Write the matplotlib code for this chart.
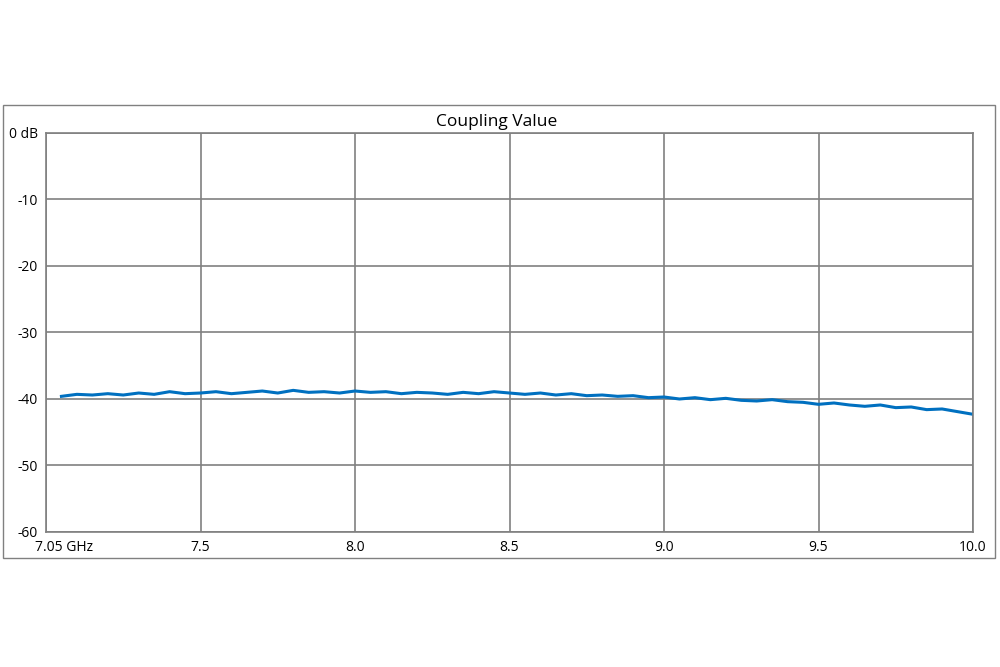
import matplotlib.pyplot as plt
import matplotlib.transforms as mtransforms
from matplotlib.patches import Rectangle

# Coupling value trace (GHz, dB)
freq_ghz = [7.05, 7.10, 7.15, 7.20, 7.25, 7.30, 7.35, 7.40, 7.45, 7.50,
            7.55, 7.60, 7.65, 7.70, 7.75, 7.80, 7.85, 7.90, 7.95, 8.00,
            8.05, 8.10, 8.15, 8.20, 8.25, 8.30, 8.35, 8.40, 8.45, 8.50,
            8.55, 8.60, 8.65, 8.70, 8.75, 8.80, 8.85, 8.90, 8.95, 9.00,
            9.05, 9.10, 9.15, 9.20, 9.25, 9.30, 9.35, 9.40, 9.45, 9.50,
            9.55, 9.60, 9.65, 9.70, 9.75, 9.80, 9.85, 9.90, 9.95, 10.00]
coupling_db = [-39.6, -39.3, -39.4, -39.2, -39.4, -39.1, -39.3, -38.9, -39.2, -39.1,
               -38.9, -39.2, -39.0, -38.8, -39.1, -38.7, -39.0, -38.9, -39.1, -38.8,
               -39.0, -38.9, -39.2, -39.0, -39.1, -39.3, -39.0, -39.2, -38.9, -39.1,
               -39.3, -39.1, -39.4, -39.2, -39.5, -39.4, -39.6, -39.5, -39.8, -39.7,
               -40.0, -39.8, -40.1, -39.9, -40.2, -40.3, -40.1, -40.4, -40.5, -40.8,
               -40.6, -40.9, -41.1, -40.9, -41.3, -41.2, -41.6, -41.5, -41.9, -42.3]

x_ticks = [7.0, 7.5, 8.0, 8.5, 9.0, 9.5, 10.0]
x_labels = ["7.05 GHz", "7.5", "8.0", "8.5", "9.0", "9.5", "10.0"]
y_ticks = [0, -10, -20, -30, -40, -50, -60]
y_labels = ["0 dB", "-10", "-20", "-30", "-40", "-50", "-60"]

plt.rcParams["font.family"] = ["Open Sans", "DejaVu Sans"]

fig = plt.figure(figsize=(10, 6.67), dpi=100)
fig.patches.append(Rectangle((0.003, 0.1634), 0.992, 0.6792, transform=fig.transFigure,
                             fill=False, edgecolor="#808080", linewidth=1.0))

ax = fig.add_axes([0.046, 0.2024, 0.927, 0.5982])
ax.plot(freq_ghz, coupling_db, color="#0070C0", linewidth=2.2)
ax.set_xlim(7.0, 10.0)
ax.set_ylim(-60, 0)
ax.set_xticks(x_ticks)
ax.set_xticklabels(x_labels, fontsize=10)
ax.set_yticks(y_ticks)
ax.set_yticklabels(y_labels, fontsize=10)
ax.tick_params(length=0, pad=6)
ax.grid(True, color="#808080", linewidth=1.2)
for s in ax.spines.values():
    s.set_color("#808080")
    s.set_linewidth(1.2)
ax.set_axisbelow(True)

# first x label starts just left of the axis, as in the reference
first = ax.get_xticklabels()[0]
first.set_horizontalalignment("left")
first.set_transform(first.get_transform() +
                    mtransforms.ScaledTranslation(-11 / 100, 0, fig.dpi_scale_trans))

fig.text(0.4965, 0.817, "Coupling Value", ha="center", va="center", fontsize=12.5)

fig.savefig("out.png", dpi=100)
